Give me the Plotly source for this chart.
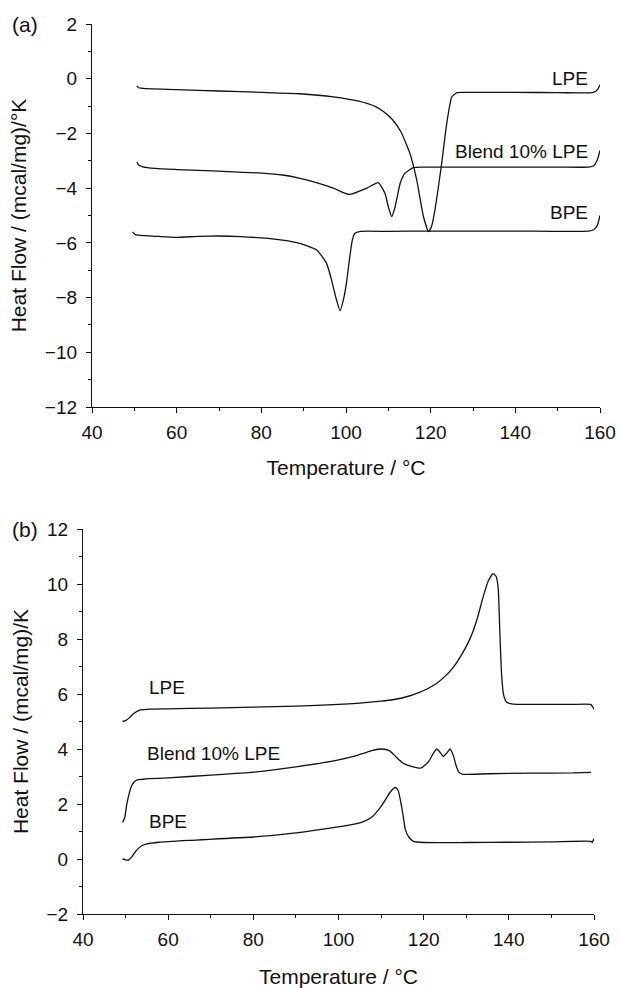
import plotly.graph_objects as go

# ---------------- Panel (a): heating / melting ----------------
a_lpe_x = [50.6, 51.0, 52, 60, 70, 80, 89, 97, 103, 107, 109, 111, 113, 115.1, 116.7, 118.3, 119.5, 120.2, 121.0, 122.6, 123.8, 125.0, 126.2, 128, 140, 150, 157.3, 158.5, 159.4, 160]
a_lpe_y = [-0.26, -0.33, -0.35, -0.40, -0.45, -0.50, -0.55, -0.66, -0.82, -1.02, -1.22, -1.5, -1.95, -2.73, -3.7, -5.04, -5.59, -5.4, -4.8, -3.09, -1.63, -0.66, -0.51, -0.50, -0.50, -0.51, -0.52, -0.50, -0.40, -0.22]

a_blend_x = [50.6, 51.0, 52, 55, 60, 70, 80, 85, 89.1, 93, 97.0, 100.8, 104.9, 107.6, 109.2, 110.0, 110.8, 111.6, 112.8, 113.9, 115.9, 118, 130, 150, 157.3, 158.5, 159.4, 160]
a_blend_y = [-3.05, -3.15, -3.22, -3.28, -3.32, -3.38, -3.45, -3.52, -3.64, -3.8, -4.0, -4.23, -4.0, -3.8, -4.19, -4.68, -5.04, -4.68, -3.82, -3.46, -3.25, -3.23, -3.23, -3.23, -3.23, -3.18, -2.95, -2.62]

a_bpe_x = [49.6, 50.2, 51, 55, 60, 65, 70, 75, 80, 85, 89.1, 93.1, 95.4, 96.6, 97.6, 98.6, 99.5, 100.2, 100.9, 101.5, 102.1, 103.5, 110, 120, 140, 157.3, 158.5, 159.4, 160]
a_bpe_y = [-5.6, -5.7, -5.72, -5.76, -5.8, -5.76, -5.75, -5.77, -5.82, -5.9, -6.02, -6.26, -6.75, -7.36, -8.0, -8.48, -8.0, -7.36, -6.5, -5.9, -5.65, -5.58, -5.58, -5.57, -5.57, -5.57, -5.52, -5.35, -5.0]

# ---------------- Panel (b): cooling / crystallisation ----------------
b_lpe_x = [49.3, 50.0, 51.0, 52.0, 53.5, 56, 60, 70, 80, 90, 100, 105, 110, 113, 116, 119, 121, 123, 125, 127, 129, 131, 132.5, 134, 135.2, 136.3, 137.0, 137.5, 137.9, 138.3, 138.8, 139.5, 141, 145, 150, 155, 159.2, 159.6, 160]
b_lpe_y = [5.0, 5.03, 5.15, 5.3, 5.42, 5.45, 5.46, 5.49, 5.52, 5.56, 5.62, 5.67, 5.74, 5.8, 5.9, 6.06, 6.2, 6.38, 6.64, 6.98, 7.45, 8.05, 8.7, 9.55, 10.12, 10.38, 10.28, 9.85, 8.2, 6.7, 5.95, 5.7, 5.63, 5.62, 5.62, 5.62, 5.62, 5.55, 5.45]

b_blend_x = [49.3, 49.8, 50.2, 50.8, 51.3, 52.0, 52.7, 54, 55.5, 60, 70, 80, 90, 99.5, 104, 106, 108, 110.2, 112, 113.4, 115, 117.1, 119.4, 121.2, 122.3, 123.1, 124.0, 124.6, 125.4, 126.2, 127.0, 127.6, 128.3, 129.2, 135, 145, 155, 159.3]
b_blend_y = [1.33, 1.5, 1.92, 2.35, 2.62, 2.8, 2.88, 2.9, 2.92, 2.95, 3.05, 3.16, 3.35, 3.59, 3.75, 3.85, 3.95, 4.0, 3.93, 3.73, 3.5, 3.37, 3.31, 3.55, 3.85, 4.0, 3.85, 3.73, 3.85, 4.0, 3.75, 3.4, 3.15, 3.08, 3.1, 3.12, 3.13, 3.15]

b_bpe_x = [49.3, 50.0, 50.6, 51.3, 52.0, 52.7, 53.8, 55, 57.8, 65, 80, 90, 99.5, 104, 106, 108, 109.7, 111, 112, 112.8, 113.4, 114.0, 114.8, 115.3, 115.7, 116.5, 117.6, 120, 130, 140, 150, 159.3, 159.6, 159.9, 160.1]
b_bpe_y = [0.0, -0.03, -0.05, 0.05, 0.2, 0.34, 0.48, 0.55, 0.61, 0.68, 0.8, 0.95, 1.16, 1.28, 1.37, 1.55, 1.85, 2.15, 2.4, 2.55, 2.6, 2.5, 1.92, 1.45, 1.07, 0.8, 0.64, 0.6, 0.6, 0.61, 0.62, 0.64, 0.6, 0.72, 0.66]

# curve labels
a_labels = ["LPE", "Blend 10% LPE", "BPE"]
a_label_x = [157.6, 157.6, 157.6]
a_label_y = [0.0, -2.66, -4.88]
b_labels = ["LPE", "Blend 10% LPE", "BPE"]
b_label_x = [55.0, 54.6, 55.0]
b_label_y = [6.23, 3.85, 1.37]

x_ticks = [40, 60, 80, 100, 120, 140, 160]
a_y_ticks = [2, 0, -2, -4, -6, -8, -10, -12]
b_y_ticks = [12, 10, 8, 6, 4, 2, 0, -2]

W, H = 620, 988
FONT = "Liberation Sans, Arial, Helvetica, sans-serif"
INK = "#111111"
LINE = dict(color=INK, width=1.3, shape="spline", smoothing=0.5)
TICK_SIZE = 19
TITLE_SIZE = 21
LABEL_SIZE = 19

fig = go.Figure()
for xs, ys, name in [(a_lpe_x, a_lpe_y, "LPE"), (a_blend_x, a_blend_y, "Blend 10% LPE"), (a_bpe_x, a_bpe_y, "BPE")]:
    fig.add_trace(go.Scatter(x=xs, y=ys, mode="lines", line=LINE, name=name, xaxis="x", yaxis="y", showlegend=False))
for xs, ys, name in [(b_lpe_x, b_lpe_y, "LPE"), (b_blend_x, b_blend_y, "Blend 10% LPE"), (b_bpe_x, b_bpe_y, "BPE")]:
    fig.add_trace(go.Scatter(x=xs, y=ys, mode="lines", line=LINE, name=name, xaxis="x2", yaxis="y2", showlegend=False))

def xaxis(domain, anchor, standoff):
    return dict(domain=domain, anchor=anchor, range=[40, 160], tickvals=x_ticks,
                showgrid=False, zeroline=False, showline=True, linecolor=INK, linewidth=1.2,
                ticks="outside", ticklen=5, tickwidth=1.2, tickcolor=INK, ticklabelstandoff=3,
                minor=dict(dtick=10, tick0=40, ticks="outside", ticklen=3, tickwidth=1.2, tickcolor=INK),
                tickfont=dict(size=TICK_SIZE, color=INK), automargin=False, fixedrange=True,
                title=dict(text="Temperature / °C", font=dict(size=TITLE_SIZE, color=INK), standoff=standoff))

def yaxis(domain, anchor, rng, ticks, title):
    return dict(domain=domain, anchor=anchor, range=rng, tickvals=ticks,
                showgrid=False, zeroline=False, showline=True, linecolor=INK, linewidth=1.2,
                ticks="outside", ticklen=5, tickwidth=1.2, tickcolor=INK, ticklabelstandoff=5,
                minor=dict(dtick=1, ticks="outside", ticklen=3, tickwidth=1.2, tickcolor=INK),
                tickfont=dict(size=TICK_SIZE, color=INK), automargin=False, fixedrange=True,
                title=dict(text=title, font=dict(size=TITLE_SIZE, color=INK), standoff=12))

fig.update_layout(
    width=W, height=H,
    margin=dict(l=0, r=0, t=0, b=0),
    paper_bgcolor="white", plot_bgcolor="white",
    font=dict(family=FONT, color=INK),
    xaxis=xaxis([92 / W, 600 / W], "y", 18),
    yaxis=yaxis([1 - 407 / H, 1 - 24 / H], "x", [-12, 2], a_y_ticks, "Heat Flow / (mcal/mg)/°K"),
    xaxis2=xaxis([83 / W, 594 / W], "y2", 24),
    yaxis2=yaxis([1 - 914 / H, 1 - 529 / H], "x2", [-2, 12], b_y_ticks, "Heat Flow / (mcal/mg)/K"),
)

for t, x, y in zip(a_labels, a_label_x, a_label_y):
    fig.add_annotation(text=t, x=x, y=y, xref="x", yref="y", xanchor="right", yanchor="middle",
                       showarrow=False, font=dict(size=LABEL_SIZE, color=INK))
for t, x, y in zip(b_labels, b_label_x, b_label_y):
    fig.add_annotation(text=t, x=x, y=y, xref="x2", yref="y2", xanchor="left", yanchor="middle",
                       showarrow=False, font=dict(size=LABEL_SIZE, color=INK))

fig.add_annotation(text="(a)", x=10 / W, y=1 - 24 / H, xref="paper", yref="paper", xanchor="left",
                   yanchor="middle", showarrow=False, font=dict(size=TITLE_SIZE, color=INK))
fig.add_annotation(text="(b)", x=10 / W, y=1 - 529 / H, xref="paper", yref="paper", xanchor="left",
                   yanchor="middle", showarrow=False, font=dict(size=TITLE_SIZE, color=INK))

fig.write_html("out.html", config={"displayModeBar": False},
               post_script="document.body.style.margin='0';document.body.style.overflow='hidden';")
